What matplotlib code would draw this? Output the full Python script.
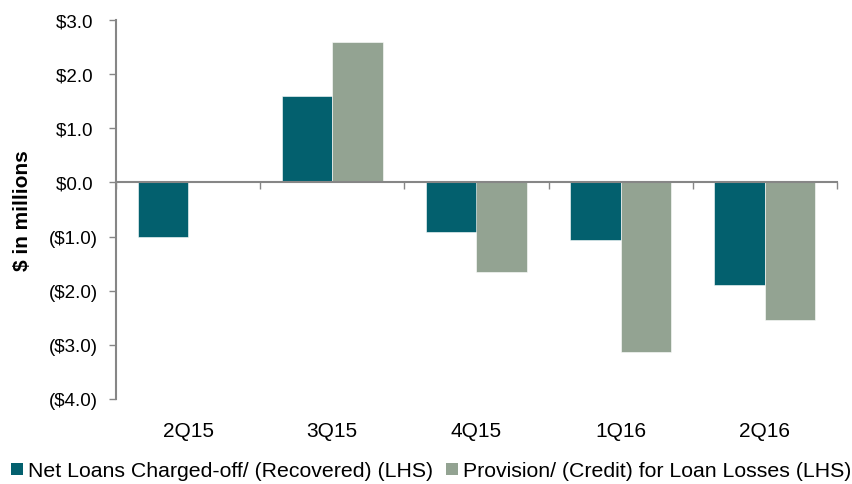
import matplotlib
matplotlib.use("Agg")
import matplotlib.pyplot as plt
from matplotlib.patches import Patch
import numpy as np

plt.rcParams['font.family'] = ['Liberation Sans', 'DejaVu Sans']

categories = ["2Q15", "3Q15", "4Q15", "1Q16", "2Q16"]
net_charged_off = [-1.0, 1.6, -0.91, -1.06, -1.90]
provision = [0.0, 2.6, -1.66, -3.13, -2.54]
series_names = ["Net Loans Charged-off/ (Recovered) (LHS)",
                "Provision/ (Credit) for Loan Losses (LHS)"]
yticks = [3.0, 2.0, 1.0, 0.0, -1.0, -2.0, -3.0, -4.0]

c_net = "#03606E"
c_prov = "#93A392"
gray = "#868686"

def fmt(v):
    if v < 0:
        return "(${:.1f})".format(-v)
    return "${:.1f} ".format(v)

fig = plt.figure(figsize=(8.52, 4.85), dpi=100)
ax = fig.add_axes([116/852, 1-400/485, (837-116)/852, (400-21)/485])

x = np.arange(len(categories))
w = 0.35
ax.bar(x - w/2, net_charged_off, w, color=c_net, edgecolor="white", linewidth=0.4, zorder=2)
ax.bar(x + w/2, provision, w, color=c_prov, edgecolor="white", linewidth=0.4, zorder=2)

ax.set_xlim(-0.5, len(categories) - 0.5)
ax.set_ylim(-4.0, 3.0)
ax.set_yticks(yticks)
ax.set_yticklabels([fmt(v) for v in yticks], fontsize=13.5)
ax.tick_params(axis='y', length=5, width=1, color=gray, pad=8)

# zero line with category-boundary ticks
ax.spines['bottom'].set_position(('data', 0))
ax.spines['bottom'].set_color(gray)
ax.spines['bottom'].set_linewidth(1.5)
ax.spines['bottom'].set_zorder(3)
ax.set_xticks(np.arange(len(categories) + 1) - 0.5)
ax.set_xticklabels([])
ax.tick_params(axis='x', length=5, width=1, color=gray, direction='out')

# category labels below the plot area
sec = ax.secondary_xaxis('bottom')
sec.set_xticks(x)
sec.set_xticklabels(categories, fontsize=15)
sec.tick_params(axis='x', length=0, pad=16)
sec.spines['bottom'].set_visible(False)

for s in ['top', 'right']:
    ax.spines[s].set_visible(False)
ax.spines['left'].set_color(gray)
ax.spines['left'].set_linewidth(1.5)

ax.set_ylabel("$ in millions", fontsize=15, fontweight='bold')
ax.yaxis.set_label_coords(-0.116, 0.5)

handles = [Patch(facecolor=c_net), Patch(facecolor=c_prov)]
fig.legend(handles, series_names, loc='center left', bbox_to_anchor=(11/852, 1-472/485),
           ncol=2, frameon=False, fontsize=15.3, handlelength=0.55, handleheight=0.55,
           handletextpad=0.25, columnspacing=0.6, borderaxespad=0, borderpad=0)

fig.savefig("out.png", dpi=100)
